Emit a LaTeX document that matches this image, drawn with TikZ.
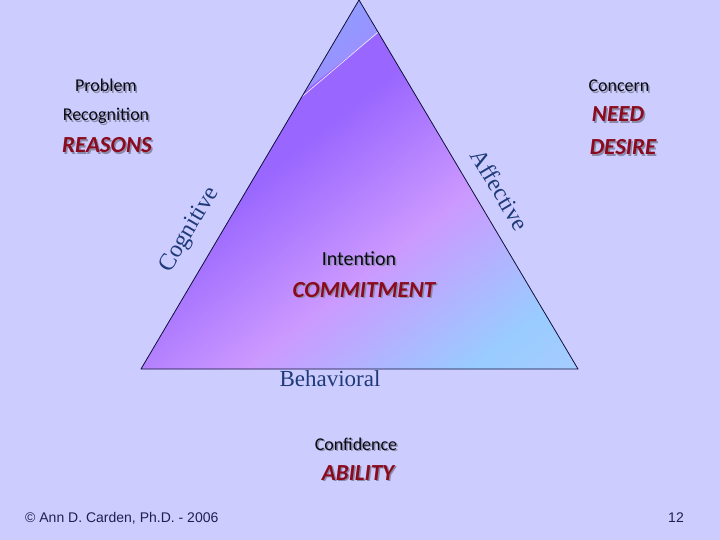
\documentclass[tikz,border=0pt]{standalone}
\usepackage{fontspec}
\setmainfont{Liberation Serif}
\newfontfamily\handfont{Carlito}
\newfontfamily\footfont{Liberation Sans}
\usetikzlibrary{positioning, calc}
\usepackage{xcolor}
\definecolor{bg}     {HTML}{CCCCFF}
\definecolor{ink}    {HTML}{0A0A14}
\definecolor{wine}   {HTML}{8C0A1E}
\definecolor{navy}   {HTML}{1F3A78}
\definecolor{outline}{HTML}{10103A}
\definecolor{dropgrey}{HTML}{8A8AA8}
\definecolor{footink}{HTML}{202050}
% gradient stops of the triangle
\definecolor{topA}   {HTML}{8E9EFF}
\definecolor{topB}   {HTML}{9A92FF}
\definecolor{violA}  {HTML}{9966FF}
\definecolor{pinkC}  {HTML}{CC99FF}
\definecolor{skyD}   {HTML}{99CCFF}
\definecolor{skyE}   {HTML}{A8CCFF}
\tikzset{
  lbl/.style     = {anchor=base, inner sep=0pt, text=ink,
                    font=\handfont\fontsize{18}{20}\selectfont},
  biglbl/.style  = {lbl, font=\handfont\fontsize{20}{22}\selectfont},
  redlbl/.style  = {lbl, text=wine,
                    font=\handfont\bfseries\itshape\fontsize{23}{25}\selectfont},
  drop/.style    = {text=dropgrey},
  edgelbl/.style = {inner sep=0pt, text=navy, font=\fontsize{24}{27}\selectfont},
  foot/.style    = {anchor=base, inner sep=0pt, text=footink,
                    font=\footfont\fontsize{14}{16}\selectfont},
  edge/.style    = {draw=outline, line width=0.8pt, line join=round},
}
% text with a grey drop shadow: style, name, position, text
\newcommand\shadowed[4]{%
  \node[#1, drop] at ($(#3)+(1.5,1.5)$) {#4};
  \node[#1] (#2) at (#3) {#4};}

\begin{document}
\begin{tikzpicture}[x=1pt, y=-1pt]

  % page
  \fill[bg] (0,0) rectangle (720,540);
  \useasboundingbox (0,0) rectangle (720,540);

  % triangle corners
  \coordinate (apex) at (359,0);
  \coordinate (lc)   at (141,369);
  \coordinate (rc)   at (578,369);

  % colour gradient, in strips across the triangle
  \begin{scope}
    \clip (apex) -- (lc) -- (rc) -- cycle;
    \begin{scope}[x={(0.619pt,-0.786pt)}, y={(-0.786pt,-0.619pt)}]
      \foreach \a/\b/\ca/\cb in {214/260/topA/topB, 260/300/violA/violA,
                                 300/440/violA/pinkC, 440/580/pinkC/skyD,
                                 580/656/skyD/skyE} {
        \foreach \t in {\a,...,\b} {
          \pgfmathtruncatemacro\p{100*(\t-\a)/(\b-\a)}
          \fill[\cb!\p!\ca] (\t,-320) -- (\t+1.6,-320) -- (\t+1.6,160)
            -- (\t,160) -- cycle;
        }
      }
    \end{scope}
    % faint seam near the apex
    \draw[white!85!topB, line width=0.6pt]
      ($(apex)!0.263!(lc)$) -- ($(apex)!0.087!(rc)$);
  \end{scope}
  \draw[edge] (apex) -- (lc) -- (rc) -- cycle;

  % side labels
  \node[edgelbl, rotate=59.4]  (cog) at (190,230) {Cognitive};
  \node[edgelbl, rotate=-59.3] (aff) at (500,190) {Affective};
  \node[edgelbl, anchor=base, font=\fontsize{23}{26}\selectfont]
    (beh) at (330,386) {Behavioral};

  % cognitive corner
  \shadowed{lbl}{prob}{106,92}{Problem}
  \shadowed{lbl}{recog}{106,121}{Recognition}
  \shadowed{redlbl}{reasons}{107,153}{REASONS}

  % affective corner
  \shadowed{lbl}{concern}{619,92}{Concern}
  \shadowed{redlbl}{need}{618,122}{NEED}
  \shadowed{redlbl}{desire}{623,155}{DESIRE}

  % centre
  \shadowed{biglbl}{intent}{359,265}{Intention}
  \shadowed{redlbl}{commit}{364,297}{COMMITMENT}

  % behavioral corner
  \shadowed{lbl}{conf}{356,450}{Confidence}
  \shadowed{redlbl}{ability}{358,480}{ABILITY}

  % footer
  \node[foot, anchor=base west] (copy) at (25,522) {© Ann D. Carden, Ph.D. - 2006};
  \node[foot] (page) at (676,522) {12};

\end{tikzpicture}
\end{document}
